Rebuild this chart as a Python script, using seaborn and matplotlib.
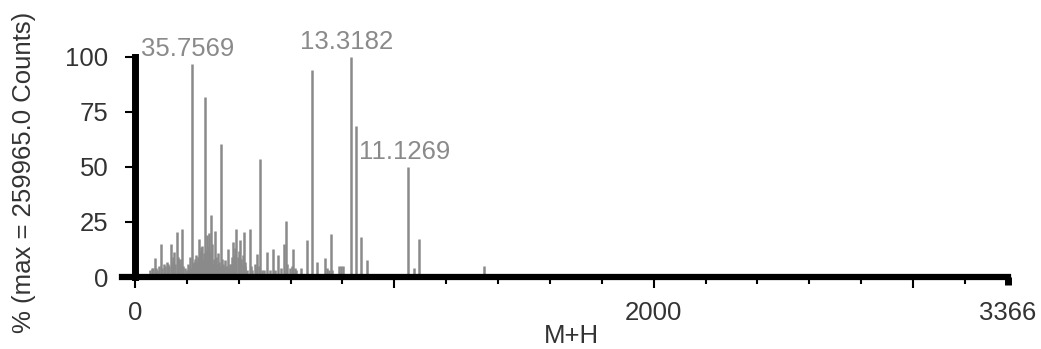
import matplotlib
matplotlib.use("Agg")
import matplotlib.pyplot as plt
import seaborn as sns
import numpy as np
from matplotlib.ticker import MultipleLocator, FixedLocator

# peak list (M+H, % of max)
mz = [58, 64, 70, 77, 81, 85, 92, 99, 106, 111, 115, 122, 128, 133, 138, 144,
      148, 151, 156, 162, 165, 168, 174, 177, 180, 186, 193, 200, 205, 208,
      211, 216, 220, 223, 226, 229, 232, 236, 240, 244, 247, 250, 252, 256,
      259, 262, 266, 269, 273, 277, 281, 285, 289, 292, 297, 302, 306, 310,
      313, 316, 320, 323, 326, 331, 336, 339, 342, 346, 349, 354, 359, 364,
      367, 370, 374, 378, 383, 387, 391, 396, 400, 404, 407, 410, 415, 420,
      423, 426, 432, 442, 447, 452, 462, 467, 472, 477, 482, 488, 498, 510,
      520, 532, 540, 551, 563, 573, 581, 588, 596, 604, 610, 616, 622, 641,
      663, 682, 703, 733, 740, 748, 754, 760, 788, 795, 802, 831, 854, 872,
      894, 1054, 1074, 1095, 1346]
intensity = [3, 4, 4, 8.8, 4, 3, 5, 14.8, 4, 6, 5, 7, 6, 5, 14.8, 7,
             9, 11.5, 6, 20.5, 9, 8, 6, 8, 22, 5, 4, 3, 6, 5,
             9.3, 4, 97, 6, 5, 7, 8, 10, 7, 9, 17.2, 12, 10, 13.8,
             14, 8, 11, 81.6, 12, 19, 14, 19.8, 12, 28, 15, 6, 8, 20.8,
             9, 6, 10.8, 7, 5, 60.5, 8, 6, 4, 5, 7.8, 5, 12.6, 4,
             6, 6, 9, 16, 10, 13, 22, 9, 12, 16.8, 8, 6, 10, 20.5,
             7, 5, 3, 22, 5, 3, 6, 4, 10.3, 5, 53.7, 3, 3, 11.2,
             3, 12.6, 3, 10, 4, 15, 25.3, 6, 4, 5, 12.6, 4, 3, 4,
             17, 94.3, 6.6, 8.8, 4, 3, 19.5, 3, 5, 5, 5, 100, 68.7, 18.3,
             7.8, 50, 4, 17.2, 5.2]

# annotated peaks
label_mz = [220, 831, 1054]
label_int = [97, 100, 50]
label_text = ["35.7569", "13.3182", "11.1269"]

x_max = 3366

sns.set_theme(style="white")
plt.rcParams['font.family'] = ['Liberation Sans', 'DejaVu Sans']

fig = plt.figure(figsize=(10.41, 3.49), dpi=100)
ax = fig.add_axes([0.1172, 0.2063, 0.8511, 0.6304])

ax.vlines(mz, 0, intensity, color="#8a8a8a", linewidth=1.8, clip_on=False, zorder=2)

for m, v, t in zip(label_mz, label_int, label_text):
    ax.annotate(t, (m, v), xytext=(-3, 2), textcoords="offset points",
                ha="center", va="bottom", fontsize=18.5, color="#8a8a8a",
                annotation_clip=False)

ax.set_xlim(-50, x_max)
ax.set_ylim(0, 100)

for s in ["top", "right"]:
    ax.spines[s].set_visible(False)
ax.spines["left"].set_position(("data", 0))
ax.spines["left"].set_linewidth(5)
ax.spines["left"].set_color("black")
ax.spines["left"].set_bounds(0, 100)
ax.spines["bottom"].set_linewidth(4.5)
ax.spines["bottom"].set_color("black")
ax.spines["bottom"].set_zorder(3)

ax.xaxis.set_major_locator(FixedLocator([0, 1000, 2000, 3000, x_max]))
ax.xaxis.set_minor_locator(MultipleLocator(200))
ax.set_xticklabels(["0", "", "2000", "", "3366"])
ax.set_yticks([0, 25, 50, 75, 100])

ax.tick_params(axis="x", which="major", direction="out", length=8, width=1.5,
               color="black", labelsize=18.5, labelcolor="#333333", pad=9,
               bottom=True)
ax.tick_params(axis="x", which="minor", direction="out", length=5, width=1.5,
               color="black", bottom=True)
ax.tick_params(axis="y", which="major", direction="out", length=7, width=1.5,
               color="black", labelsize=18.5, labelcolor="#333333", pad=12,
               left=True)

# the end marker at 3366 is a short wide block
end_tick = ax.xaxis.get_major_ticks()[-1]
end_tick.tick1line.set_markeredgewidth(5)
end_tick.tick1line.set_markersize(6)

ax.set_xlabel("M+H", fontsize=18.5, color="#333333")
ax.set_ylabel("% (max = 259965.0 Counts)", fontsize=18.5, color="#333333")
ax.xaxis.set_label_coords(0.507, -0.215)
ax.yaxis.set_label_coords(-0.097, 0.477)

fig.savefig("out.png", dpi=100)
